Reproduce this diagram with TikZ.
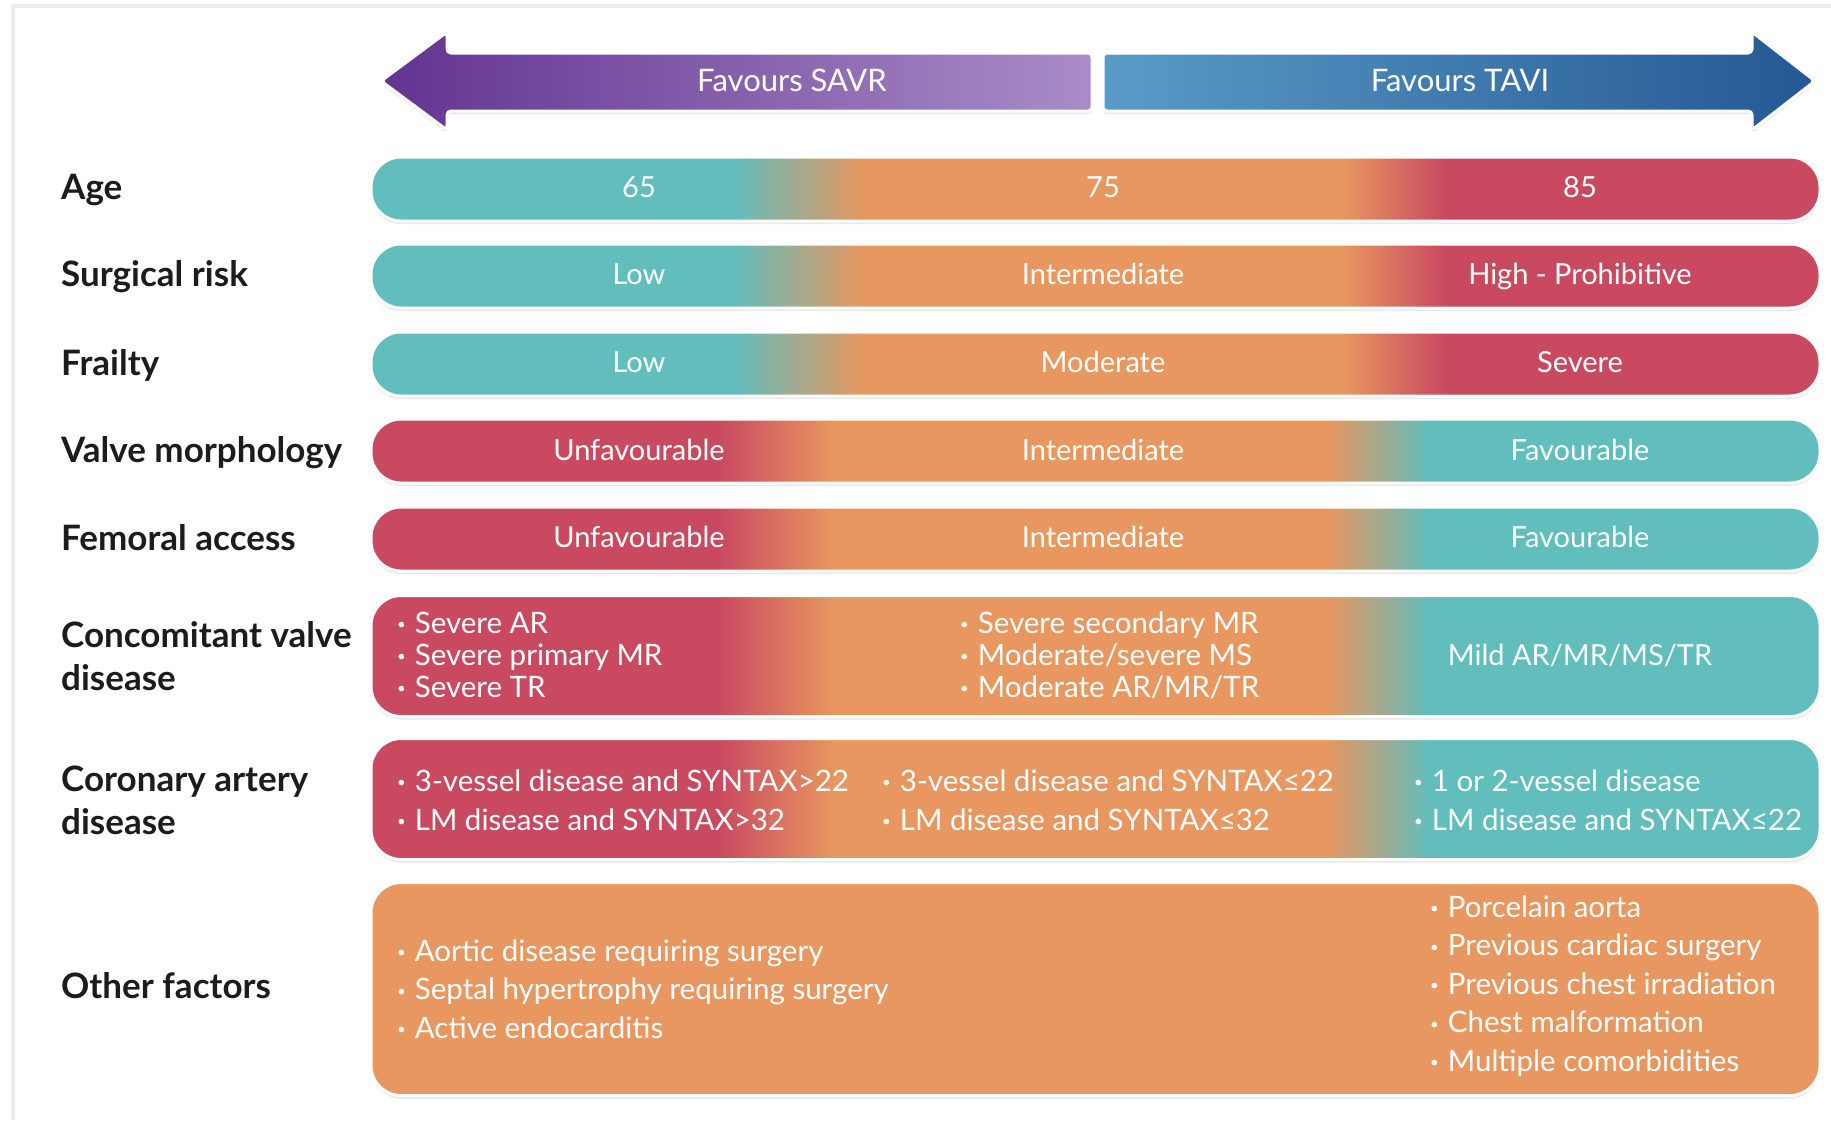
\documentclass[tikz,border=0pt]{standalone}
\usepackage{fontspec}
\setmainfont{Lato}
\usetikzlibrary{shadows,positioning}

\definecolor{barteal}{RGB}{98,189,189}
\definecolor{barorange}{RGB}{231,151,95}
\definecolor{barred}{RGB}{201,74,96}
\definecolor{savrdark}{RGB}{98,52,145}
\definecolor{savrlight}{RGB}{170,140,200}
\definecolor{tavilight}{RGB}{90,155,198}
\definecolor{tavidark}{RGB}{36,88,148}
\definecolor{framegrey}{RGB}{236,236,226}
\definecolor{labelgrey}{RGB}{28,28,28}

% teal -> orange -> red and back (central 25bp..75bp covers the bar)
\pgfdeclarehorizontalshading{tor}{100bp}{color(0bp)=(barteal); color(37.5bp)=(barteal); color(42bp)=(barorange); color(58.5bp)=(barorange); color(62bp)=(barred); color(100bp)=(barred)}
\pgfdeclarehorizontalshading{rot}{100bp}{color(0bp)=(barred); color(37bp)=(barred); color(41bp)=(barorange); color(58bp)=(barorange); color(61.5bp)=(barteal); color(100bp)=(barteal)}

\newcommand{\bul}{\raisebox{0.25ex}{\fontsize{15}{15}\selectfont\textbullet}\hspace{9pt}}

\begin{document}
\begin{tikzpicture}[x=1pt, y=-1pt,
  bar node/.style={draw=white, line width=3pt, rounded corners=30pt, minimum width=1449pt, inner sep=0pt, shade, drop shadow={opacity=0.18, shadow xshift=0pt, shadow yshift=-3pt}},
  label node/.style={anchor=west, inner sep=0pt, align=left, text=labelgrey, font=\fontsize{35}{43}\selectfont\bfseries},
  bar text/.style={inner sep=0pt, text height=21pt, text depth=0pt, text=white, font=\fontsize{29}{34}\selectfont},
  item node/.style={anchor=west, inner sep=0pt, align=left, text=white},
  arrow shape/.style={draw=white, line width=3pt, rounded corners=4pt, drop shadow={opacity=0.18, shadow xshift=0pt, shadow yshift=-3pt}}]
\useasboundingbox (0,0) rectangle (1831,1120);
\fill[white] (0,0) rectangle (1831,1120);
\draw[framegrey, line width=4pt] (13,1120) -- (13,6) -- (1831,6);

% direction arrows
\path[arrow shape, left color=savrdark, right color=savrlight] (1092,53) -- (447,53) -- (447,32) -- (381,81) -- (447,130) -- (447,111) -- (1092,111) -- cycle;
\path[arrow shape, left color=tavilight, right color=tavidark] (1103,53) -- (1752,53) -- (1752,32) -- (1815,81) -- (1752,130) -- (1752,111) -- (1103,111) -- cycle;
\node[bar text, font=\fontsize{31}{36}\selectfont] (savr) at (792,81) {Favours SAVR};
\node[bar text, font=\fontsize{31}{36}\selectfont] (tavi) at (1460,81) {Favours TAVI};

\begin{scope}[every node/.style={bar node, minimum height=64pt}]
\node[shading=tor] (age) at (1095.5,189) {};
\node[shading=tor] (srisk) at (1095.5,276) {};
\node[shading=tor] (frail) at (1095.5,364) {};
\node[shading=rot] (valve) at (1095.5,451) {};
\node[shading=rot] (femoral) at (1095.5,539) {};
\node[shading=rot, minimum height=121pt] (concom) at (1095.5,656) {};
\node[shading=rot, minimum height=121pt] (coronary) at (1095.5,799) {};
\node[fill=barorange, shade=false, minimum height=213pt] (other) at (1095.5,989) {};
\end{scope}

\begin{scope}[every node/.style={label node}]
\node (lab-age) at (61,190) {Age};
\node (lab-srisk) at (61,277) {Surgical risk};
\node (lab-frail) at (61,365) {Frailty};
\node (lab-valve) at (61,453) {Valve morphology};
\node (lab-femoral) at (61,538) {Femoral access};
\node (lab-concom) at (61,656) {Concomitant valve\\disease};
\node (lab-coronary) at (61,800) {Coronary artery\\disease};
\node (lab-other) at (61,986) {Other factors};
\end{scope}

\begin{scope}[every node/.style={bar text}]
\node (age-l) at (639,187) {65};
\node (age-m) at (1103,187) {75};
\node (age-r) at (1580,187) {85};
\node (srisk-l) at (639,274) {Low};
\node (srisk-m) at (1103,274) {Intermediate};
\node (srisk-r) at (1580,274) {High - Prohibitive};
\node (frail-l) at (639,362) {Low};
\node (frail-m) at (1103,362) {Moderate};
\node (frail-r) at (1580,362) {Severe};
\node (valve-l) at (639,450) {Unfavourable};
\node (valve-m) at (1103,450) {Intermediate};
\node (valve-r) at (1580,450) {Favourable};
\node (femoral-l) at (639,537) {Unfavourable};
\node (femoral-m) at (1103,537) {Intermediate};
\node (femoral-r) at (1580,537) {Favourable};
\node (concom-r) at (1580,655) {Mild AR/MR/MS/TR};
\end{scope}

\begin{scope}[every node/.style={item node, font=\fontsize{29.5}{32}\selectfont}]
\node (concom-l) at (397,655) {\bul Severe AR\\\bul Severe primary MR\\\bul Severe TR};
\node (concom-m) at (960,655) {\bul Severe secondary MR\\\bul Moderate/severe MS\\\bul Moderate AR/MR/TR};
\end{scope}

\begin{scope}[every node/.style={item node, font=\fontsize{29.5}{38.6}\selectfont}]
\node (coronary-l) at (397,800) {\bul 3-vessel disease and SYNTAX>22\\\bul LM disease and SYNTAX>32};
\node (coronary-m) at (882,800) {\bul 3-vessel disease and SYNTAX≤22\\\bul LM disease and SYNTAX≤32};
\node (coronary-r) at (1414,800) {\bul 1 or 2-vessel disease\\\bul LM disease and SYNTAX≤22};
\node (other-l) at (397,989) {\bul Aortic disease requiring surgery\\\bul Septal hypertrophy requiring surgery\\\bul Active endocarditis};
\node (other-r) at (1430,986) {\bul Porcelain aorta\\\bul Previous cardiac surgery\\\bul Previous chest irradiation\\\bul Chest malformation\\\bul Multiple comorbidities};
\end{scope}
\end{tikzpicture}
\end{document}
